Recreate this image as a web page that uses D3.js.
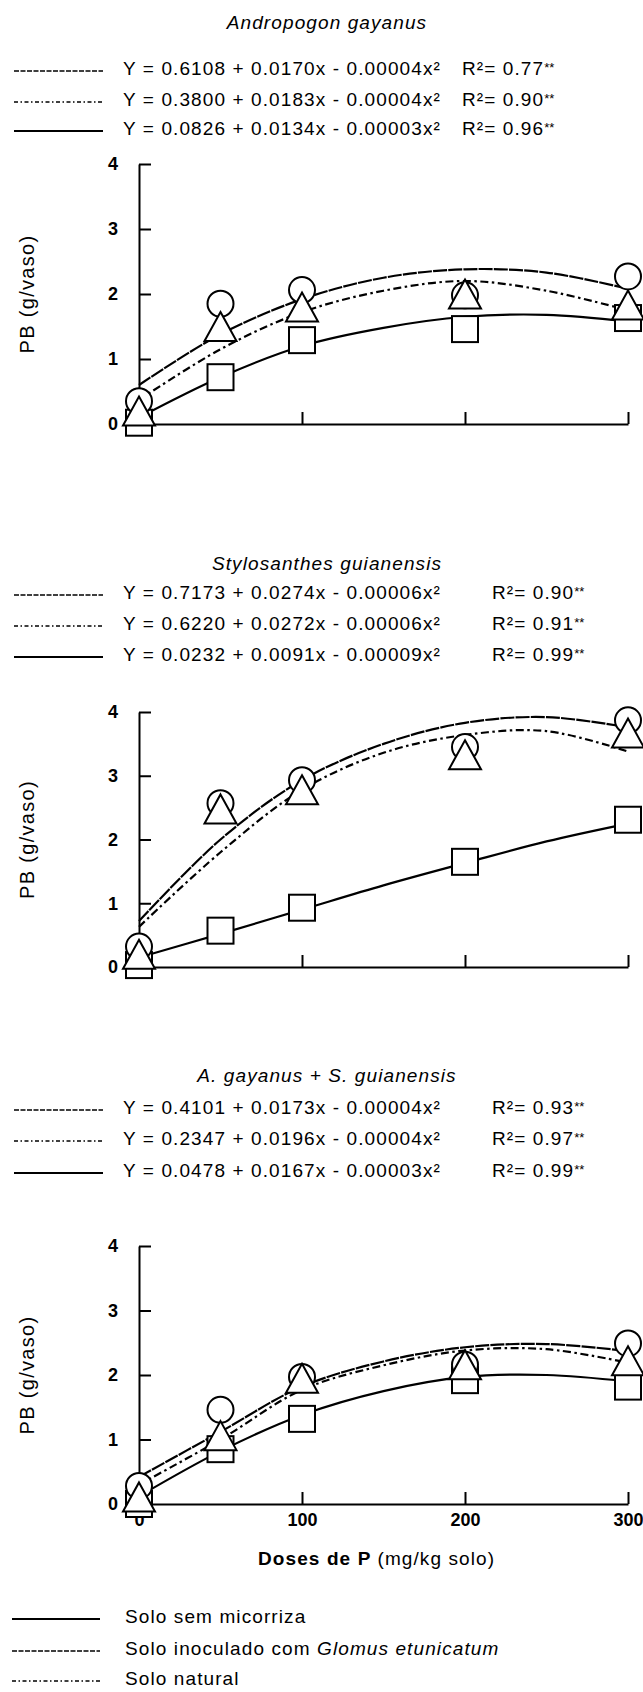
<!DOCTYPE html>
<meta charset="utf-8">
<head>
<style>
  body { margin: 0; background: #fff; }
  text { font-family: "Liberation Sans", Arial, sans-serif; fill: #000; }
</style>
</head>
<body>
<div id="chart"></div>
<script src="https://d3js.org/d3.v7.min.js"></script>
<script>
// doses where points were measured, and where the fitted curves were read
const doses = [0, 50, 100, 200, 300];
const curveDoses = [0, 50, 100, 150, 200, 250, 300];
const yTicks = [0, 1, 2, 3, 4];
const xTicks = [0, 100, 200, 300];

const titles = ["Andropogon gayanus", "Stylosanthes guianensis", "A. gayanus + S. guianensis"];

// equations: glomus, natural, sem micorriza
const equations1 = ["Y = 0.6108 + 0.0170x - 0.00004x²", "Y = 0.3800 + 0.0183x - 0.00004x²", "Y = 0.0826 + 0.0134x - 0.00003x²"];
const r2_1 = ["0.77", "0.90", "0.96"];
const equations2 = ["Y = 0.7173 + 0.0274x - 0.00006x²", "Y = 0.6220 + 0.0272x - 0.00006x²", "Y = 0.0232 + 0.0091x - 0.00009x²"];
const r2_2 = ["0.90", "0.91", "0.99"];
const equations3 = ["Y = 0.4101 + 0.0173x - 0.00004x²", "Y = 0.2347 + 0.0196x - 0.00004x²", "Y = 0.0478 + 0.0167x - 0.00003x²"];
const r2_3 = ["0.93", "0.97", "0.99"];

// Andropogon gayanus
const agCircles   = [0.35, 1.85, 2.06, 1.98, 2.27];
const agTriangles = [0.20, 1.50, 1.80, 2.00, 1.83];
const agSquares   = [0.02, 0.72, 1.29, 1.46, 1.63];
const agGlomusFit  = [0.60, 1.38, 1.92, 2.25, 2.38, 2.33, 2.08];
const agNaturalFit = [0.37, 1.15, 1.72, 2.05, 2.20, 2.05, 1.75];
const agSemFit     = [0.10, 0.72, 1.20, 1.48, 1.65, 1.68, 1.58];

// Stylosanthes guianensis
const sgCircles   = [0.32, 2.57, 2.93, 3.45, 3.87];
const sgTriangles = [0.20, 2.48, 2.78, 3.33, 3.67];
const sgSquares   = [0.03, 0.57, 0.93, 1.65, 2.31];
const sgGlomusFit  = [0.72, 2.00, 2.93, 3.50, 3.83, 3.92, 3.76];
const sgNaturalFit = [0.63, 1.80, 2.78, 3.36, 3.64, 3.70, 3.38];
const sgSemFit     = [0.15, 0.52, 0.90, 1.28, 1.63, 1.97, 2.25];

// A. gayanus + S. guianensis
const mxCircles   = [0.28, 1.46, 1.97, 2.16, 2.49];
const mxTriangles = [0.11, 1.06, 1.95, 2.16, 2.22];
const mxSquares   = [0.00, 0.85, 1.32, 1.92, 1.82];
const mxGlomusFit  = [0.42, 1.12, 1.82, 2.21, 2.43, 2.48, 2.37];
const mxNaturalFit = [0.30, 1.00, 1.77, 2.15, 2.38, 2.40, 2.19];
const mxSemFit     = [0.12, 0.82, 1.38, 1.75, 1.97, 2.00, 1.90];

const legendLabels = ["Solo sem micorriza", "Solo inoculado com ", "Solo natural"];

const W = 643, H = 1692;
const svg = d3.select("#chart").append("svg")
  .attr("width", W).attr("height", H);

const x = d3.scaleLinear().domain([0, 300]).range([139, 628]);

const dashGlomus = "14,1.2";
const dashNatural = "8,3.5,2.5,3.5";
const smallDash = [null, "5,1.5", "4,2.5,1.5,2.5"]; // sem, glomus, natural (legend rows)

const panels = [
  { title: titles[0], eqs: equations1, r2: r2_1, r2x: 462, titleY: 22, eqY: [68, 99, 128], y0: 424, y4: 164,
    c: agCircles, t: agTriangles, s: agSquares, fg: agGlomusFit, fn: agNaturalFit, fs: agSemFit, xLabels: false },
  { title: titles[1], eqs: equations2, r2: r2_2, r2x: 492, titleY: 563, eqY: [592, 623, 654], y0: 967, y4: 712,
    c: sgCircles, t: sgTriangles, s: sgSquares, fg: sgGlomusFit, fn: sgNaturalFit, fs: sgSemFit, xLabels: false },
  { title: titles[2], eqs: equations3, r2: r2_3, r2x: 492, titleY: 1075, eqY: [1107, 1138, 1170], y0: 1504, y4: 1246,
    c: mxCircles, t: mxTriangles, s: mxSquares, fg: mxGlomusFit, fn: mxNaturalFit, fs: mxSemFit, xLabels: true }
];

const eqDash = [smallDash[1], smallDash[2], null];

panels.forEach(function(p) {
  const g = svg.append("g");
  const y = d3.scaleLinear().domain([0, 4]).range([p.y0, p.y4]);

  // title
  g.append("text")
    .attr("x", 327).attr("y", p.titleY + 6.5)
    .attr("text-anchor", "middle")
    .style("font-size", "19px").style("font-style", "italic")
    .style("letter-spacing", "1.1px")
    .text(p.title);

  // equation rows
  p.eqs.forEach(function(eq, i) {
    const ry = p.eqY[i];
    g.append("line")
      .attr("x1", 14).attr("x2", 103).attr("y1", ry + 3).attr("y2", ry + 3)
      .attr("stroke", "#000").attr("stroke-width", i == 2 ? 2 : 1.6)
      .attr("stroke-dasharray", eqDash[i]);
    g.append("text")
      .attr("x", 123).attr("y", ry + 7)
      .style("font-size", "19px").style("letter-spacing", "1.1px")
      .text(eq);
    const r = g.append("text")
      .attr("x", p.r2x).attr("y", ry + 7)
      .style("font-size", "19px").style("letter-spacing", "1.1px")
      .text("R²= " + p.r2[i]);
    r.append("tspan").attr("dy", -3).style("font-size", "13px").style("letter-spacing", "0px").text("**");
  });

  // axes
  const yAxis = g.append("g")
    .attr("transform", `translate(${x(0)},0)`)
    .call(d3.axisLeft(y).tickValues(yTicks).tickSize(-12).tickSizeOuter(0)
      .tickPadding(21).tickFormat(d3.format("d")));
  const xAxis = g.append("g")
    .attr("transform", `translate(0,${p.y0})`)
    .call(d3.axisBottom(x).tickValues(p.xLabels ? xTicks : [100, 200, 300])
      .tickSize(-12).tickSizeOuter(0).tickPadding(9)
      .tickFormat(p.xLabels ? d3.format("d") : ""));
  [yAxis, xAxis].forEach(function(a) {
    a.select(".domain").attr("stroke", "#000").attr("stroke-width", 2);
    a.selectAll(".tick line").attr("stroke", "#000").attr("stroke-width", 2);
    a.selectAll(".tick text")
      .style("font-family", "'Liberation Sans', Arial, sans-serif")
      .style("font-size", "18px").style("font-weight", "bold").attr("fill", "#000");
  });

  // y label
  g.append("text")
    .attr("transform", `translate(34,${(p.y0 + p.y4) / 2}) rotate(-90)`)
    .attr("text-anchor", "middle")
    .style("font-size", "20px").style("letter-spacing", "1.3px")
    .text("PB (g/vaso)");

  // fitted curves
  const line = d3.line()
    .x(function(d, i) { return x(curveDoses[i]); })
    .y(function(d) { return y(d); })
    .curve(d3.curveCatmullRom.alpha(0.5));
  [[p.fs, null], [p.fg, dashGlomus], [p.fn, dashNatural]].forEach(function(c) {
    g.append("path")
      .attr("d", line(c[0]))
      .attr("fill", "none").attr("stroke", "#000").attr("stroke-width", 2.2)
      .attr("stroke-dasharray", c[1]);
  });

  // markers: squares, circles, then triangles on top
  g.append("g").selectAll("rect")
    .data(p.s)
    .join("rect")
      .attr("x", function(d, i) { return x(doses[i]) - 13; })
      .attr("y", function(d) { return y(d) - 13; })
      .attr("width", 26).attr("height", 26)
      .attr("fill", "#fff").attr("stroke", "#000").attr("stroke-width", 2);
  g.append("g").selectAll("circle")
    .data(p.c)
    .join("circle")
      .attr("cx", function(d, i) { return x(doses[i]); })
      .attr("cy", function(d) { return y(d); })
      .attr("r", 13)
      .attr("fill", "#fff").attr("stroke", "#000").attr("stroke-width", 2);
  g.append("g").selectAll("path")
    .data(p.t)
    .join("path")
      .attr("d", function(d, i) {
        const cx = x(doses[i]), cy = y(d);
        return `M${cx},${cy - 14.5}L${cx + 16},${cy + 14.5}L${cx - 16},${cy + 14.5}Z`;
      })
      .attr("fill", "#fff").attr("stroke", "#000").attr("stroke-width", 2);
});

// x axis title
const xt = svg.append("text")
  .attr("x", 258).attr("y", 1565)
  .style("font-size", "19px").style("letter-spacing", "1.1px");
xt.append("tspan").style("font-weight", "bold").text("Doses de P ");
xt.append("tspan").text("(mg/kg solo)");

// legend
const legendY = [1616, 1648, 1678];
legendLabels.forEach(function(lab, i) {
  svg.append("line")
    .attr("x1", 12).attr("x2", 100).attr("y1", legendY[i] + 3).attr("y2", legendY[i] + 3)
    .attr("stroke", "#000").attr("stroke-width", i == 0 ? 2 : 1.6)
    .attr("stroke-dasharray", smallDash[i]);
  const t = svg.append("text")
    .attr("x", 125).attr("y", legendY[i] + 7)
    .style("font-size", "19px").style("letter-spacing", "1.1px")
    .text(lab);
  if (i == 1) t.append("tspan").style("font-style", "italic").text("Glomus etunicatum");
});
</script>
</body>
